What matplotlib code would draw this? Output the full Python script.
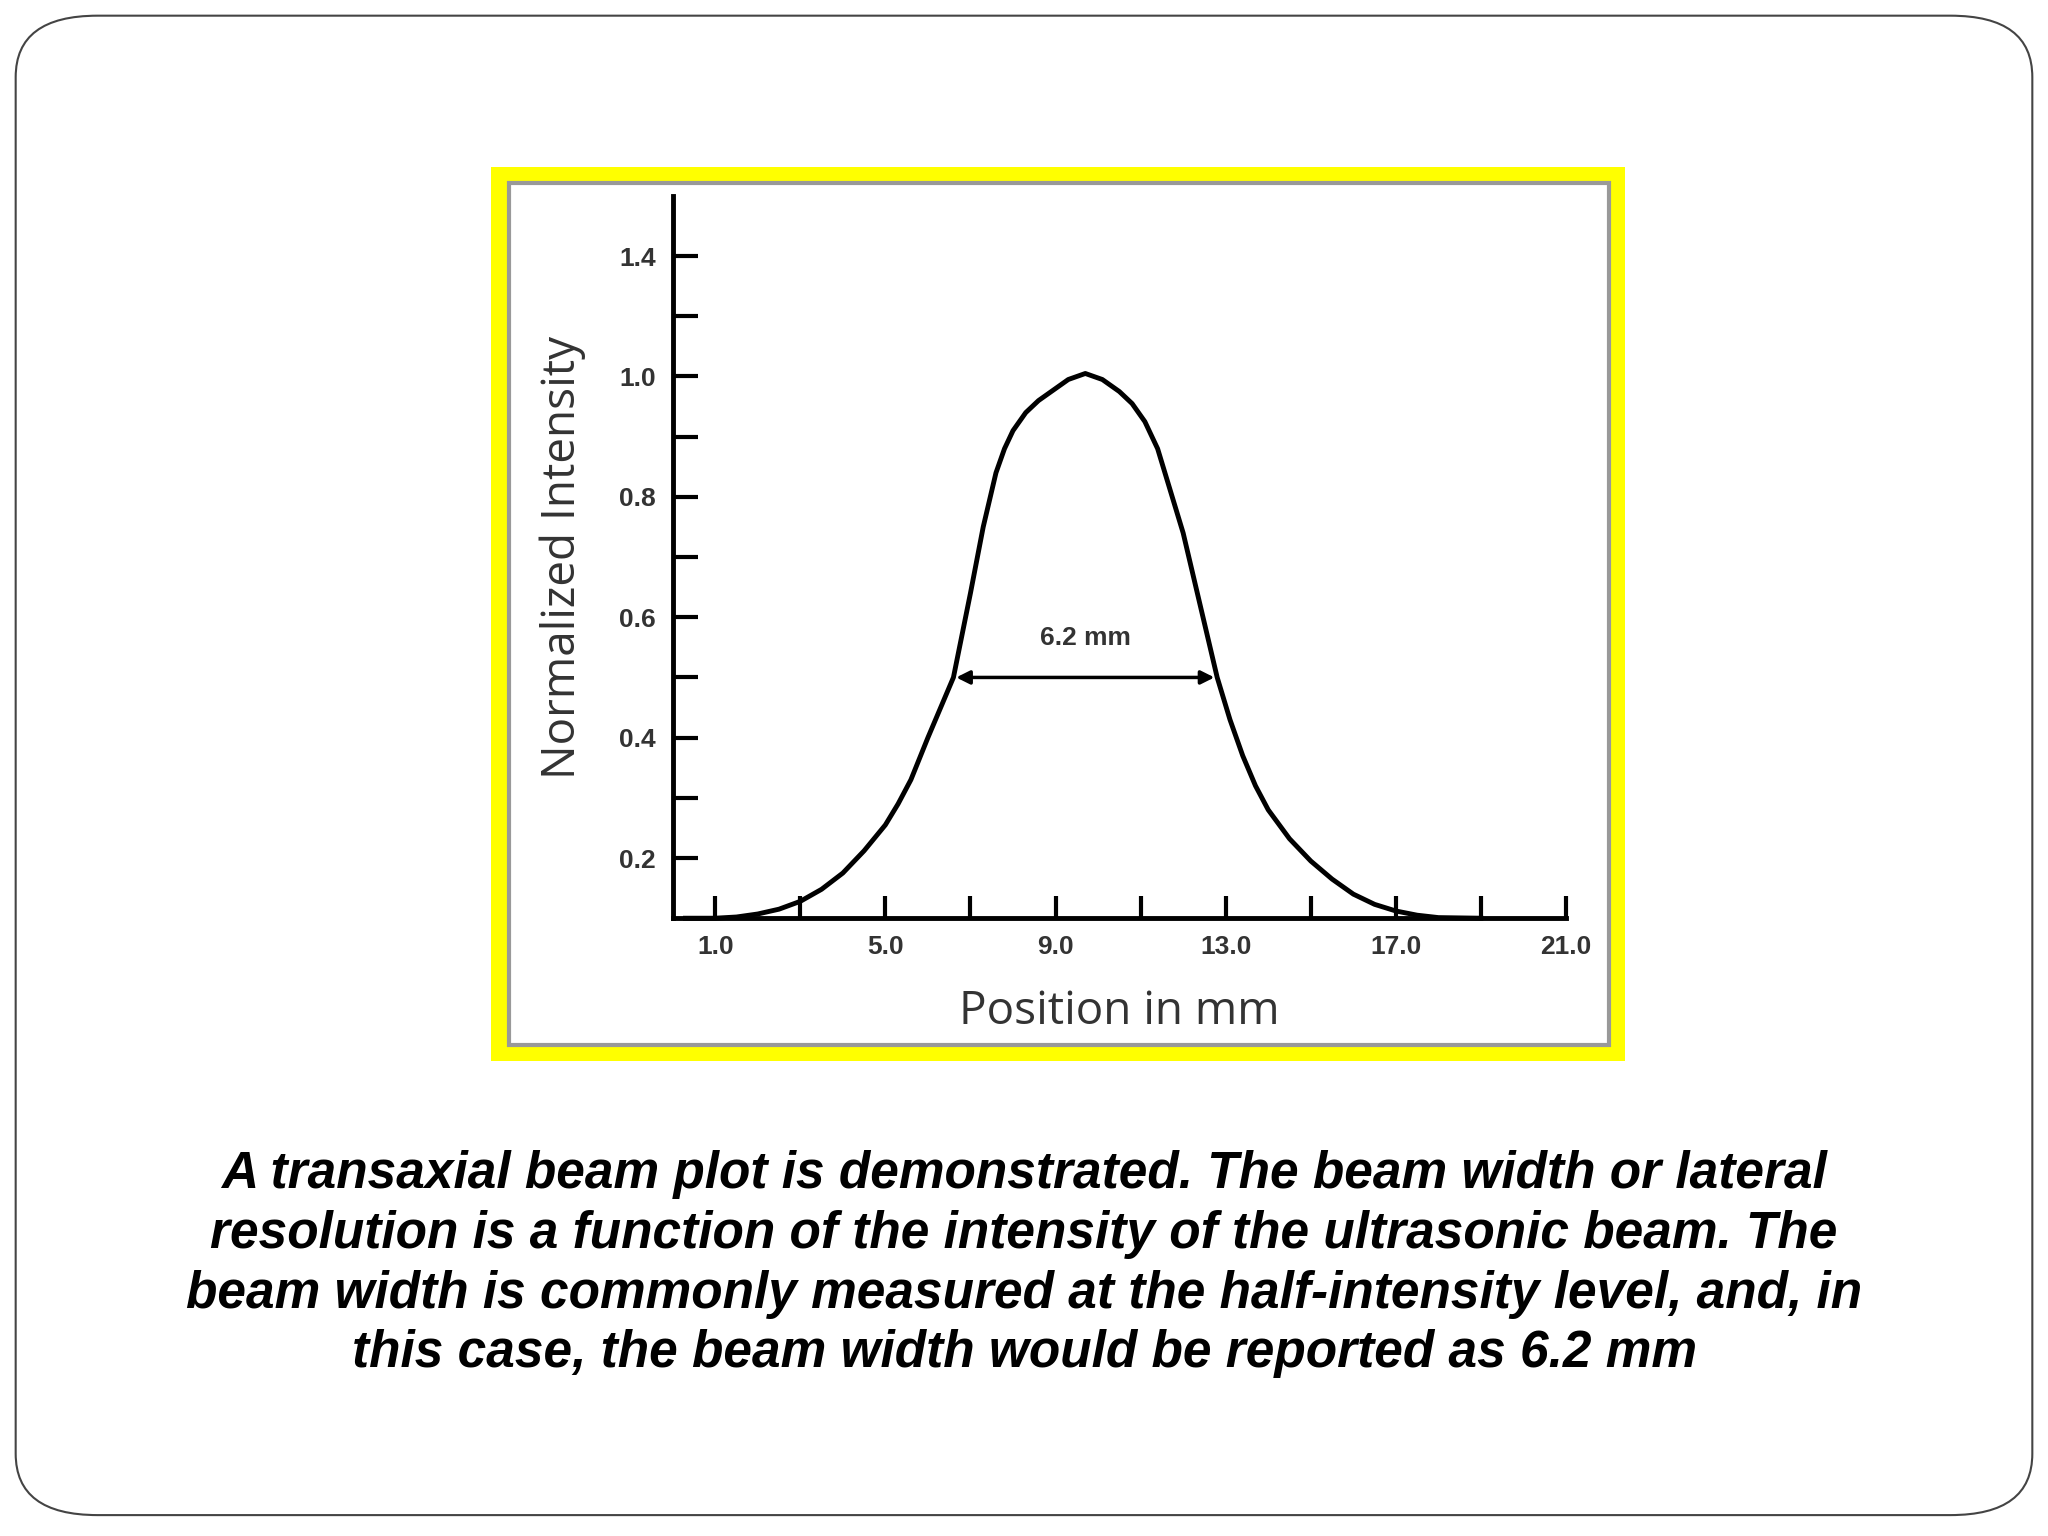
import matplotlib.pyplot as plt
from matplotlib.patches import FancyBboxPatch, Rectangle

pos = [0.3, 1, 1.5, 2, 2.5, 3, 3.5, 4, 4.5, 5, 5.3, 5.6, 6, 6.3, 6.6, 7, 7.3, 7.6, 7.8, 8,
       8.3, 8.6, 9, 9.3, 9.7, 10.1, 10.5, 10.8, 11.1, 11.4, 11.7, 12, 12.4, 12.8, 13.1,
       13.4, 13.7, 14, 14.5, 15, 15.5, 16, 16.5, 17, 17.5, 18, 19]
intensity = [0.1, 0.1, 0.102, 0.107, 0.115, 0.128, 0.148, 0.175, 0.212, 0.255, 0.29, 0.33,
             0.4, 0.45, 0.5, 0.64, 0.75, 0.84, 0.88, 0.91, 0.94, 0.96, 0.98, 0.995, 1.005,
             0.995, 0.975, 0.955, 0.925, 0.88, 0.81, 0.74, 0.62, 0.5, 0.43, 0.37, 0.32, 0.28,
             0.232, 0.195, 0.165, 0.14, 0.123, 0.112, 0.105, 0.101, 0.1]
# the source figure labels its top tick "1.4" although it sits where 1.2 would be
y_labels = {0.2: "0.2", 0.4: "0.4", 0.6: "0.6", 0.8: "0.8", 1.0: "1.0", 1.2: "1.4"}
x_labels = [1.0, 5.0, 9.0, 13.0, 17.0, 21.0]
half_left, half_right = 6.6, 12.8
caption = ("A transaxial beam plot is demonstrated. The beam width or lateral\n"
           "resolution is a function of the intensity of the ultrasonic beam. The\n"
           "beam width is commonly measured at the half-intensity level, and, in\n"
           "this case, the beam width would be reported as 6.2 mm")

W, H = 1568, 1176
fig = plt.figure(figsize=(20.48, 15.36), dpi=100)

def fx(x): return x / W
def fy(y): return 1 - y / H

fig.patches.append(FancyBboxPatch((fx(12), fy(1160)), fx(1544), 1148 / H,
                                  boxstyle="round,pad=0,rounding_size=0.04",
                                  transform=fig.transFigure, fill=False, ec='#444', lw=1.5,
                                  zorder=-3))
fig.patches.append(Rectangle((fx(376), fy(812)), fx(868), 684 / H, transform=fig.transFigure,
                             fc='#ffff00', ec='none', zorder=-2))
fig.patches.append(Rectangle((fx(390), fy(800)), fx(842), 660 / H, transform=fig.transFigure,
                             fc='white', ec='#999', lw=3, zorder=-1))

ax = fig.add_axes([fx(515), fy(703), fx(684), 553 / H])
ax.set_zorder(2)
ax.plot(pos, intensity, color='black', lw=3.5, clip_on=False, solid_joinstyle='round')
ax.set_xlim(0, 21)
ax.set_ylim(0.1, 1.3)
for s in ['top', 'right']:
    ax.spines[s].set_visible(False)
ax.spines['left'].set_linewidth(3.5)
ax.spines['bottom'].set_linewidth(3.5)
ax.patch.set_alpha(0)

yt = [round(0.2 + 0.1 * i, 1) for i in range(11)]
ax.set_yticks(yt)
ax.set_yticklabels([y_labels.get(v, "") for v in yt], fontsize=19, fontweight='bold',
                   family='Liberation Sans', color='#333')
ax.tick_params(axis='y', direction='in', length=18, width=3, pad=12)
xt = [1 + 2 * i for i in range(11)]
ax.set_xticks(xt)
ax.set_xticklabels([f"{v:.1f}" if v in x_labels else "" for v in xt], fontsize=19,
                   fontweight='bold', family='Liberation Sans', color='#333')
ax.tick_params(axis='x', direction='in', length=16, width=3, pad=12)
ax.set_xlabel("Position in mm", fontsize=33, family='Open Sans', color='#333', labelpad=22)
ax.set_ylabel("Normalized Intensity", fontsize=33, family='Open Sans', color='#333', labelpad=24)

ax.annotate("", xy=(half_left, 0.5), xytext=(half_right, 0.5),
            arrowprops=dict(arrowstyle='<|-|>', color='black', lw=2.5, mutation_scale=20))
ax.text((half_left + half_right) / 2, 0.545, "6.2 mm", ha='center', va='bottom', fontsize=19,
        fontweight='bold', family='Liberation Sans', color='#333')

fig.text(0.5, fy(968), caption, ha='center', va='center', fontsize=37, fontweight='bold',
         style='italic', family='Liberation Sans', linespacing=1.28)

fig.savefig('out.png', dpi=100, facecolor='white')
